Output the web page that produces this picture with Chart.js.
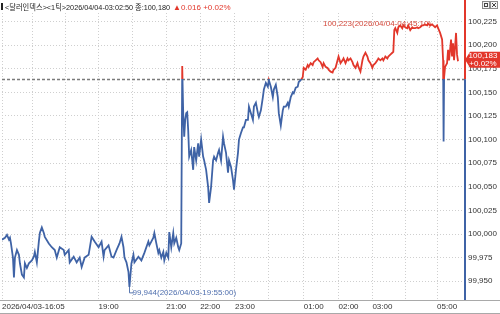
<!DOCTYPE html>
<html><head><meta charset="utf-8">
<script src="https://cdn.jsdelivr.net/npm/chart.js@4/dist/chart.umd.min.js"></script>
<style>html,body{margin:0;padding:0;background:#fff;overflow:hidden}#wrap{position:relative;width:500px;height:314px}</style>
</head><body><div id="wrap"><canvas id="c" width="500" height="314"></canvas></div>
<script>
// ---- data (x = tick sequence position, y = price) ----
const tickNo = [0,3,5,7,8,9,11,12,13,15,17,18,20,22,23,25,27,30,32,33,35,37,38,40,42,43,47,50,53,55,58,62,63,67,68,72,75,78,80,83,87,90,93,97,100,102,103,107,110,112,115,118,120,122,123,125,127,128,130,132,133,137,140,143,147,148,152,153,155,157,158,160,162,163,165,167,168,170,172,173,175,177,178,180,181,
182,183,184,185,186,187,188,190,192,193,195,197,198,200,202,203,205,207,208,210,212,213,215,217,218,220,222,223,225,227,228,230,232,233,235,237,238,240,242,243,245,247,248,250,252,253,255,257,258,260,262,263,265,267,268,270,272,273,275,277,278,280,282,283,285,287,288,290,292,293,295,297,298,300,302,
303,305,307,308,310,312,313,315,317,318,320,322,323,325,327,328,330,332,333,335,337,338,340,342,343,345,347,348,350,352,353,355,357,358,360,362,363,365,367,368,370,372,373,375,377,378,380,382,383,385,387,388,390,392,393,394,395,397,398,400,402,403,405,407,408,410,412,413,415,417,418,420,422,423,425,427,428,430,432,433,435,437,438,440,442,443,443.5,444,445,447,448,449,451,452,453,454,455,456,457,458];
const price = [99.994,99.996,99.999,99.994,99.996,99.990,99.975,99.954,99.975,99.983,99.978,99.969,99.957,99.954,99.969,99.964,99.969,99.972,99.976,99.981,99.970,99.992,100.001,100.007,100.001,99.997,99.990,99.986,99.983,99.975,99.986,99.983,99.978,99.983,99.970,99.976,99.970,99.975,99.965,99.975,99.978,99.997,99.992,99.986,99.992,99.976,99.983,99.988,99.976,99.975,99.983,99.990,99.997,99.986,99.975,99.970,99.960,99.944,99.969,99.978,99.970,99.976,99.972,99.980,99.992,99.988,99.996,100.001,99.990,99.980,99.983,99.975,99.981,99.972,99.980,99.975,100.002,99.986,100.001,99.990,99.996,99.986,99.983,99.990,100.178,
100.128,100.103,100.121,100.128,100.129,100.110,100.082,100.089,100.068,100.092,100.078,100.096,100.082,100.100,100.082,100.078,100.068,100.050,100.033,100.050,100.078,100.082,100.078,100.086,100.089,100.078,100.103,100.096,100.086,100.065,100.078,100.071,100.057,100.047,100.068,100.086,100.100,100.107,100.113,100.113,100.121,100.121,100.135,100.128,100.121,100.135,100.139,100.128,100.124,100.131,100.145,100.153,100.160,100.156,100.163,100.156,100.145,100.153,100.158,100.145,100.128,100.115,100.131,100.135,100.135,100.139,100.135,100.145,100.150,100.149,100.155,100.156,100.161,100.163,100.166,
100.176,100.174,100.179,100.177,100.181,100.179,100.182,100.184,100.186,100.184,100.182,100.177,100.181,100.177,100.176,100.174,100.172,100.171,100.174,100.176,100.184,100.188,100.181,100.184,100.186,100.181,100.186,100.184,100.186,100.182,100.179,100.176,100.181,100.177,100.172,100.184,100.188,100.192,100.188,100.184,100.181,100.176,100.179,100.181,100.184,100.186,100.184,100.186,100.184,100.188,100.186,100.188,100.190,100.192,100.193,100.216,100.218,100.213,100.219,100.221,100.218,100.221,100.219,100.218,100.221,100.216,100.219,100.218,100.218,100.219,100.218,100.219,100.221,100.221,100.222,100.221,100.223,100.221,100.222,100.221,100.219,100.221,100.218,100.213,100.206,100.184,100.098,100.166,100.177,100.181,100.195,100.184,100.206,100.188,100.202,100.184,100.198,100.213,100.190,100.183];
const prevClose = 100.164;
const closeShown = 100.180;
const yTicks = [99.950,99.975,100.000,100.025,100.050,100.075,100.100,100.125,100.150,100.175,100.200,100.225];
const hourTicks = [0,31,64,97,131,165,199,234,268,303,338,372,405,437];
const hourLabels = ['2026/04/03-16:05','','','19:00','','21:00','22:00','23:00','','01:00','02:00','03:00','','05:00'];
const titleName = '<달러인덱스><1틱>2026/04/04-03:02:50 종:';
const maxTime = '2026/04/04-04:45:10';
const minTime = '2026/04/03-19:55:00';

// ---- styles ----
const RED = '#e2372b', BLUE = '#3f63a6';
const FAM = '"Liberation Sans Narrow","Liberation Sans","Noto Sans CJK KR",sans-serif';
const fmt = v => v.toFixed(3).replace('.', ',');

const deco = {
  id: 'deco',
  beforeDatasetsDraw(chart) {
    const {ctx, chartArea: a, scales: {x, y}} = chart;
    const ry = Math.round(y.getPixelForValue(prevClose)) + 0.5;
    ctx.save();
    ctx.strokeStyle = '#7a7a7a'; ctx.lineWidth = 1.3; ctx.setLineDash([3, 2]);
    ctx.beginPath(); ctx.moveTo(a.left, ry); ctx.lineTo(a.right, ry); ctx.stroke();
    ctx.setLineDash([]);
    // max annotation
    const vmax = Math.max(...price), imax = price.indexOf(vmax);
    const mx = x.getPixelForValue(tickNo[imax]), my = y.getPixelForValue(vmax);
    ctx.font = '8px ' + FAM; ctx.textBaseline = 'middle';
    ctx.fillStyle = '#d4493c'; ctx.textAlign = 'right';
    ctx.fillText(fmt(vmax) + '(' + maxTime + ')', mx + 3, my);
    // min annotation
    const vmin = Math.min(...price), imin = price.indexOf(vmin);
    const nx = Math.round(x.getPixelForValue(tickNo[imin])) + 0.5, ny = y.getPixelForValue(vmin);
    ctx.strokeStyle = '#5a78b0'; ctx.lineWidth = 1;
    ctx.beginPath(); ctx.moveTo(nx, ny); ctx.lineTo(nx, ny + 6); ctx.lineTo(nx + 4, ny + 6); ctx.stroke();
    ctx.fillStyle = '#4f6fae'; ctx.textAlign = 'left';
    ctx.fillText(fmt(vmin) + '(' + minTime + ')', nx + 3, ny + 6);
    ctx.restore();
  },
  afterDraw(chart) {
    const {ctx, chartArea: a, scales: {y}} = chart;
    const ry = y.getPixelForValue(prevClose);
    ctx.save();
    // frame lines
    ctx.strokeStyle = '#a9a9a9'; ctx.lineWidth = 1;
    ctx.beginPath(); ctx.moveTo(0, a.bottom + 0.5); ctx.lineTo(500, a.bottom + 0.5);
    ctx.moveTo(0, 313.5); ctx.lineTo(500, 313.5); ctx.stroke();
    // coloured price axis
    ctx.lineWidth = 2;
    ctx.strokeStyle = RED; ctx.beginPath(); ctx.moveTo(a.right, 0); ctx.lineTo(a.right, ry); ctx.stroke();
    ctx.strokeStyle = BLUE; ctx.beginPath(); ctx.moveTo(a.right, ry); ctx.lineTo(a.right, a.bottom); ctx.stroke();
    // last price box
    const last = price[price.length - 1];
    const py = y.getPixelForValue(last) - 1.5;
    ctx.fillStyle = RED;
    ctx.beginPath(); ctx.moveTo(a.right, py); ctx.lineTo(a.right + 5, py - 8); ctx.lineTo(500, py - 8);
    ctx.lineTo(500, py + 8); ctx.lineTo(a.right + 5, py + 8); ctx.closePath(); ctx.fill();
    ctx.fillStyle = '#fff'; ctx.font = '8px ' + FAM; ctx.textAlign = 'center'; ctx.textBaseline = 'middle';
    const pct = (last - prevClose) / prevClose * 100;
    ctx.fillText(fmt(last), 483, py - 3.5);
    ctx.fillText((pct >= 0 ? '+' : '') + pct.toFixed(2) + '%', 483, py + 4);
    // title
    ctx.fillStyle = '#222'; ctx.fillRect(1, 3, 2, 7);
    ctx.textAlign = 'left'; ctx.font = '8px ' + FAM;
    const t1 = titleName + fmt(closeShown);
    ctx.fillText(t1, 5, 7.5, 165);
    const w1 = Math.min(ctx.measureText(t1).width, 165);
    const chg = closeShown - prevClose;
    const cp = chg / prevClose * 100;
    ctx.fillStyle = RED;
    ctx.fillText('▲' + chg.toFixed(3) + ' +' + cp.toFixed(2) + '%', 5 + w1 + 3, 7.5);
    // window icons
    ctx.strokeStyle = '#8a8a8a'; ctx.lineWidth = 1; ctx.fillStyle = '#f4f4f4';
    ctx.fillRect(482.5, 1.5, 7, 7); ctx.strokeRect(482.5, 1.5, 7, 7);
    ctx.fillRect(490.5, 1.5, 7, 7); ctx.strokeRect(490.5, 1.5, 7, 7);
    ctx.strokeStyle = '#444';
    ctx.strokeRect(484.5, 3.5, 3, 3);
    ctx.beginPath(); ctx.moveTo(492, 3); ctx.lineTo(496, 7); ctx.moveTo(496, 3); ctx.lineTo(492, 7); ctx.stroke();
    ctx.restore();
  }
};

new Chart(document.getElementById('c'), {
  type: 'line',
  data: {
    datasets: [{
      data: tickNo.map((t, i) => ({x: t, y: price[i]})),
      borderWidth: 1.8,
      pointRadius: 0,
      tension: 0,
      borderColor: (c) => {
        const ch = c.chart, a = ch.chartArea;
        if (!a) return BLUE;
        const ry = ch.scales.y.getPixelForValue(prevClose);
        const f = Math.min(1, Math.max(0, (ry - a.top) / (a.bottom - a.top)));
        const g = ch.ctx.createLinearGradient(0, a.top, 0, a.bottom);
        g.addColorStop(0, RED); g.addColorStop(f, RED); g.addColorStop(f, BLUE); g.addColorStop(1, BLUE);
        return g;
      }
    }]
  },
  options: {
    responsive: false, animation: false, devicePixelRatio: 1,
    layout: {padding: {top: 13, left: 0, right: 0, bottom: 0}},
    plugins: {legend: {display: false}, tooltip: {enabled: false}, title: {display: false}},
    scales: {
      x: {
        type: 'linear', min: 0, max: 465,
        afterBuildTicks: s => { s.ticks = hourTicks.map(v => ({value: v})); },
        afterFit: s => { s.height = 14; },
        ticks: {autoSkip: false, maxRotation: 0, align: 'start', padding: 2, color: '#333',
          font: {family: FAM, size: 8}, callback: (v, i) => hourLabels[i]},
        grid: {color: '#cfcfcf', lineWidth: 1, drawTicks: false},
        border: {display: false, dash: [1, 2]}
      },
      y: {
        position: 'right', min: 99.9301, max: 100.2341,
        afterBuildTicks: s => { s.ticks = yTicks.map(v => ({value: v})); },
        afterFit: s => { s.width = 35; },
        ticks: {padding: 3, color: '#333', font: {family: FAM, size: 8}, callback: v => fmt(v)},
        grid: {color: '#cfcfcf', lineWidth: 1, drawTicks: false},
        border: {display: false, dash: [1, 2]}
      }
    }
  },
  plugins: [deco]
});
</script></body></html>
